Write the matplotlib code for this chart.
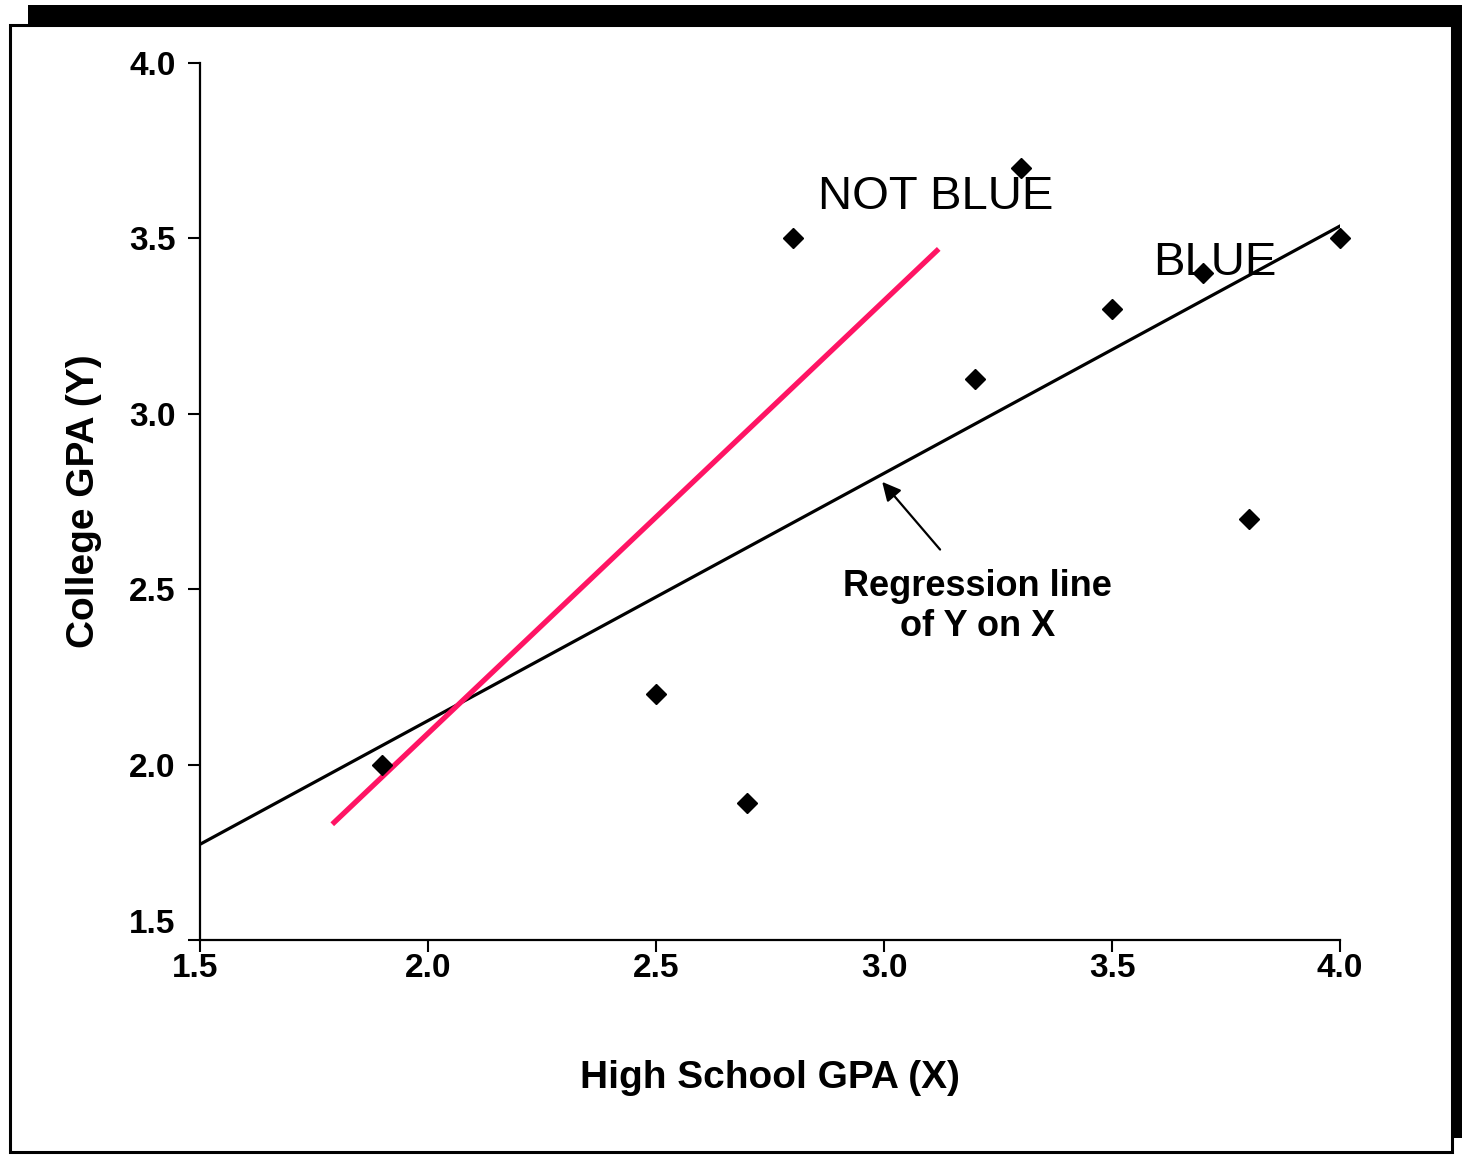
#!/usr/bin/env python3
"""Scatter of college GPA vs high school GPA with regression line and a steeper 'not BLUE' line."""
import matplotlib

matplotlib.use("Agg")
import matplotlib.pyplot as plt
import matplotlib.transforms as mtransforms
import numpy as np
from matplotlib.patches import Rectangle

# data
hs_gpa = [1.9, 2.5, 2.7, 2.8, 3.2, 3.3, 3.5, 3.7, 3.8, 4.0]
college_gpa = [2.0, 2.2, 1.89, 3.5, 3.1, 3.7, 3.3, 3.4, 2.7, 3.5]

not_blue_x = [1.79, 3.12]
not_blue_y = [1.83, 3.47]

ticks = [1.5, 2.0, 2.5, 3.0, 3.5, 4.0]
tick_labels = ["1.5", "2.0", "2.5", "3.0", "3.5", "4.0"]

W, H = 1462, 1155
plt.rcParams["font.family"] = ["Liberation Sans", "DejaVu Sans"]

fig = plt.figure(figsize=(W / 100, H / 100), dpi=100)

# drop-shadow frame around the whole picture (kept behind the axes)
fig.patches.append(Rectangle((28 / W, 1 - 1138 / H), (W - 28) / W, (1138 - 5) / H,
                             transform=fig.transFigure, facecolor="black",
                             edgecolor="none", zorder=-2))
fig.patches.append(Rectangle((10 / W, 1 - 1152 / H), (1452 - 10) / W, (1152 - 25) / H,
                             transform=fig.transFigure, facecolor="white",
                             edgecolor="black", linewidth=2.2, zorder=-1))

ax = fig.add_axes([200 / W, 1 - 940 / H, (1340 - 200) / W, (940 - 63) / H])
ax.set_facecolor("none")
ax.set_xlim(1.5, 4.0)
ax.set_ylim(1.5, 4.0)

for side in ("top", "right"):
    ax.spines[side].set_visible(False)
for side in ("left", "bottom"):
    ax.spines[side].set_linewidth(1.6)

ax.set_xticks(ticks)
ax.set_xticklabels(tick_labels)
ax.set_yticks(ticks)
ax.set_yticklabels(tick_labels)
ax.tick_params(axis="both", direction="out", length=8.5, width=1.5,
               labelsize=24)
ax.tick_params(axis="x", pad=1)
ax.tick_params(axis="y", pad=9)
for lab in ax.get_xticklabels() + ax.get_yticklabels():
    lab.set_fontweight("bold")

# the lowest y label sits a little above its tick, clear of the x axis
low = ax.yaxis.get_major_ticks()[0].label1
low.set_transform(low.get_transform() +
                  mtransforms.ScaledTranslation(0, 0.19, fig.dpi_scale_trans))
first_x = ax.xaxis.get_major_ticks()[0].label1
first_x.set_transform(first_x.get_transform() +
                      mtransforms.ScaledTranslation(-0.05, 0, fig.dpi_scale_trans))

# regression line of Y on X from the points
slope, intercept = np.polyfit(hs_gpa, college_gpa, 1)
fit_x = np.array([1.5, 4.0])
ax.plot(fit_x, slope * fit_x + intercept, color="black", linewidth=2.3, zorder=3)

ax.plot(not_blue_x, not_blue_y, color="#ff1464", linewidth=3.8,
        solid_capstyle="butt", zorder=4)

ax.plot(hs_gpa, college_gpa, linestyle="none", marker="D", markersize=10,
        color="black", clip_on=False, zorder=5)

ax.text(2.855, 3.584, "NOT BLUE", fontsize=34, ha="left", va="baseline")
ax.text(3.59, 3.396, "BLUE", fontsize=34, ha="left", va="baseline")

ax.annotate("", xy=(2.996, 2.806), xytext=(3.123, 2.613),
            arrowprops=dict(arrowstyle="-|>", color="black", lw=1.6,
                            mutation_scale=28, shrinkA=0, shrinkB=0))
ax.text(3.206, 2.45, "Regression line\nof Y on X", fontsize=26,
        fontweight="bold", ha="center", va="center", linespacing=1.2)

ax.set_xlabel("High School GPA (X)", fontsize=28, fontweight="bold")
ax.set_ylabel("College GPA (Y)", fontsize=28, fontweight="bold")
ax.xaxis.set_label_coords(0.5, -0.137)
ax.yaxis.set_label_coords(-0.086, 0.5)

fig.savefig("out.png", dpi=100)
plt.close(fig)
